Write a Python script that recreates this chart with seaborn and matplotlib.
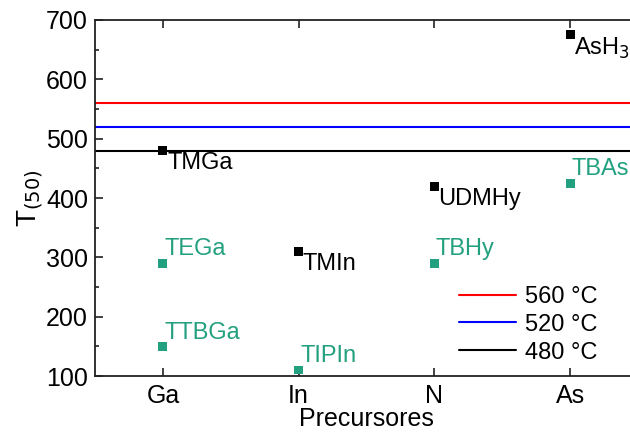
import matplotlib
matplotlib.use("Agg")
import matplotlib.pyplot as plt
import seaborn as sns
import pandas as pd
from matplotlib.ticker import MultipleLocator

sns.set_style("ticks")
plt.rcParams['font.family'] = ['Liberation Sans', 'DejaVu Sans']
plt.rcParams['text.color'] = 'black'
plt.rcParams['axes.labelcolor'] = 'black'
plt.rcParams['xtick.color'] = 'black'
plt.rcParams['ytick.color'] = 'black'

categories = ["Ga", "In", "N", "As"]
names = ["TMGa", "TEGa", "TTBGa", "TMIn", "TIPIn", "UDMHy", "TBHy", "AsH$_3$", "TBAs"]
groups = ["Ga", "Ga", "Ga", "In", "In", "N", "N", "As", "As"]
temps = [480, 290, 150, 310, 110, 420, 290, 675, 425]
kinds = ["black", "teal", "teal", "black", "teal", "black", "teal", "black", "teal"]
line_temps = [560, 520, 480]
line_labels = ["560 °C", "520 °C", "480 °C"]
line_colors = ["#ff0000", "#0000ff", "#000000"]

teal = "#22a07f"
palette = {"black": "#000000", "teal": teal}

df = pd.DataFrame({"name": names, "group": groups, "T": temps, "kind": kinds})
df["x"] = df["group"].map({c: i for i, c in enumerate(categories)})

fig = plt.figure(figsize=(6.3, 4.33), dpi=100)
ax = fig.add_axes([95/630, 1-376/433, 543/630, 356/433])

handles = []
for t, lab, c in zip(line_temps, line_labels, line_colors):
    h = ax.axhline(t, color=c, lw=1.5, label=lab)
    handles.append(h)

sns.scatterplot(data=df, x="x", y="T", hue="kind", palette=palette, marker="s",
                s=40, edgecolor="none", legend=False, ax=ax, zorder=5)

for _, r in df.iterrows():
    col = palette[r["kind"]]
    if r["kind"] == "black":
        ax.annotate(r["name"], (r["x"], r["T"]), xytext=(3, -1), textcoords="offset points",
                    ha="left", va="top", fontsize=17, color=col)
    else:
        ax.annotate(r["name"], (r["x"], r["T"]), xytext=(1, 2), textcoords="offset points",
                    ha="left", va="bottom", fontsize=17, color=col)

ax.set_xlim(-0.5, 3.5)
ax.set_ylim(100, 700)
ax.set_xticks(range(len(categories)))
ax.set_xticklabels(categories)
ax.yaxis.set_major_locator(MultipleLocator(100))
ax.yaxis.set_minor_locator(MultipleLocator(50))
ax.tick_params(axis="both", which="both", direction="in", top=True, right=True,
               labelsize=18, width=1.2, color="#222222")
ax.tick_params(which="major", length=6)
ax.tick_params(which="minor", length=3)
ax.tick_params(axis="x", pad=6)
ax.tick_params(axis="y", pad=5)
for s in ax.spines.values():
    s.set_linewidth(1.3)
    s.set_color("#222222")

ax.set_xlabel("Precursores", fontsize=18, labelpad=-1)
ax.set_ylabel("T$_{(50)}$", fontsize=20, labelpad=0)

ax.legend(handles=handles, loc="lower right", frameon=False, fontsize=17,
          handlelength=2.4, handletextpad=0.4, labelspacing=0.25,
          bbox_to_anchor=(0.965, -0.025))

fig.savefig("out.png", dpi=100)
